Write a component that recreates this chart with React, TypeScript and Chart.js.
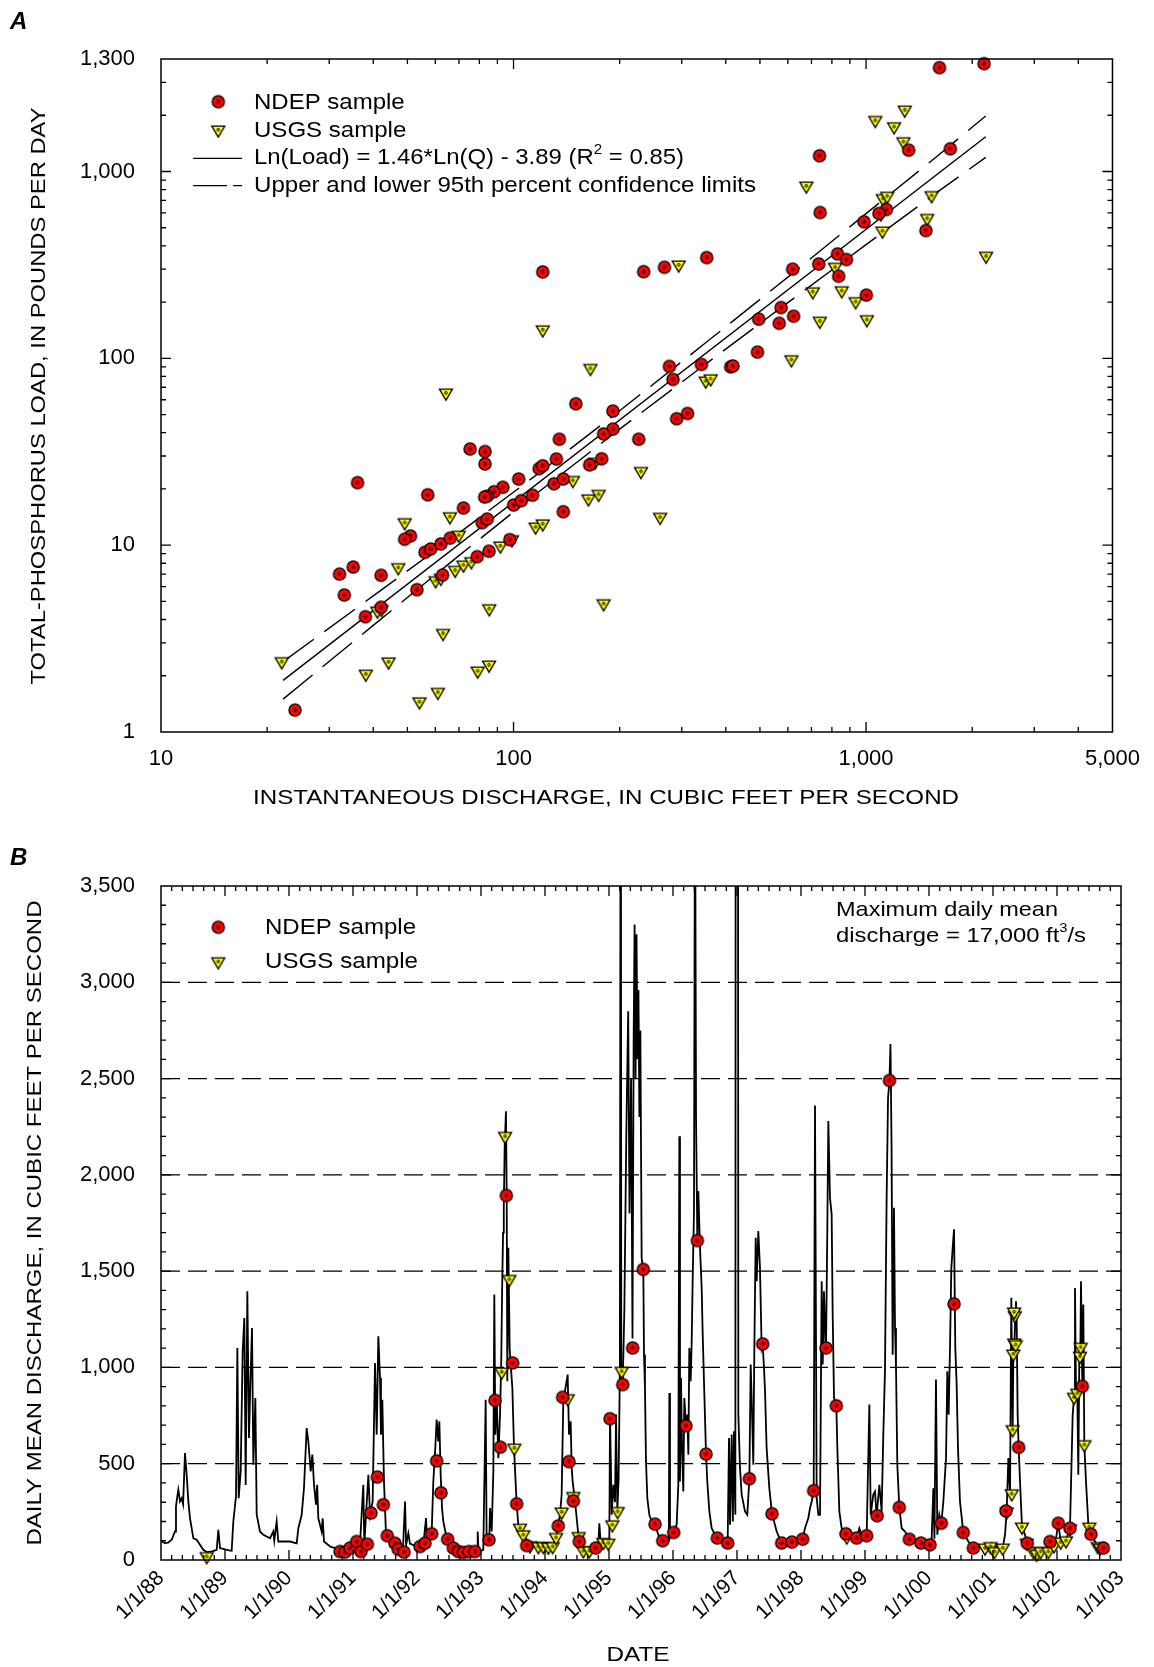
import React, { useEffect, useRef } from "react";
import { Chart, registerables } from "chart.js";

Chart.register(...registerables);

const FONT = '"Liberation Sans", Arial, Helvetica, sans-serif';
Chart.defaults.font.family = FONT;
Chart.defaults.color = "#000";

// ---------- Panel A: load vs. discharge ----------
// NDEP samples: [instantaneous discharge (ft3/s), total-phosphorus load (lb/d)]
const ndepLoadSamples: Array<[number, number]> = [
  [24.0, 1.31], [36.1, 21.6], [57.1, 18.6], [75.3, 32.7], [83.0, 31.7], [83.0, 27.2],
  [32.1, 7.0], [35.1, 7.64], [33.1, 5.41], [42.1, 6.9], [38.0, 4.14], [42.1, 4.65],
  [51.0, 11.2], [49.1, 10.75], [53.2, 5.78], [56.1, 9.16], [58.2, 9.54], [62.2, 10.15],
  [66.1, 10.9], [72.1, 15.8], [62.9, 6.92], [81.5, 13.2], [84.2, 13.8], [93.2, 20.4],
  [88.0, 19.3], [84.2, 18.3], [82.8, 18.1], [78.9, 8.68], [85.2, 9.28], [97.6, 10.7],
  [103.4, 22.6], [100.1, 16.4], [105.2, 17.3], [113.2, 18.5], [118.2, 25.7], [121.0, 26.6],
  [132.3, 28.9], [134.9, 36.9], [130.3, 21.3], [138.4, 22.6], [138.4, 15.1], [150.2, 57.1],
  [191.4, 52.2], [191.4, 41.8], [180.1, 39.4], [177.8, 29.0], [164.4, 26.9], [226.5, 36.9],
  [121.0, 290], [233.9, 291], [268.0, 307], [353.2, 346], [276.8, 90.5], [283.3, 77.1],
  [341.2, 92.8], [290.2, 47.5], [311.6, 50.7], [741, 603], [987, 538], [1142, 626],
  [1088, 596], [1321, 1301], [1734, 1323], [738, 1214], [830, 362], [880, 338],
  [734, 320], [836, 275], [1478, 483], [1002, 218], [619, 300], [623, 168],
  [574, 187], [567, 154], [496, 162], [492, 108], [413, 90], [419, 91],
  [1615, 3594], [2162, 3777],
];

// USGS samples: [instantaneous discharge (ft3/s), total-phosphorus load (lb/d)]
const usgsLoadSamples: Array<[number, number]> = [
  [22.0, 2.38], [38.1, 2.04], [44.2, 2.37], [54.1, 1.45], [61.0, 1.63], [79.1, 2.12],
  [85.2, 2.28], [63.1, 3.37], [85.3, 4.57], [180.1, 4.86], [41.1, 4.44], [42.2, 4.53],
  [47.1, 7.58], [49.1, 13.2], [66.0, 14.2], [69.9, 11.3], [60.1, 6.45], [62.2, 6.65],
  [68.3, 7.34], [72.1, 7.83], [75.9, 8.16], [91.8, 9.9], [99.0, 10.7], [115.5, 12.5],
  [121.0, 13.0], [147.3, 22.2], [163.1, 17.7], [174.3, 18.7], [170.3, 27.8], [229.9, 24.8],
  [64.3, 65.2], [121.0, 142], [165.2, 88.3], [294, 316], [260.5, 14.1], [350.9, 75.6],
  [362.4, 77.7], [677, 836], [1116, 716], [1148, 737], [1102, 594], [1113, 480],
  [1534, 743], [1491, 561], [817, 307], [706, 227], [853, 230], [934, 201],
  [739, 158], [1005, 161], [614, 98.3], [1287, 2131], [1062, 1876], [1201, 1736],
  [1276, 1443], [2190, 352],
];

// Regression Ln(Load) = 1.46*Ln(Q) - 3.89, drawn over the sampled discharge range
const FIT_SLOPE = 1.46;
const FIT_INTERCEPT = -3.89;
const fitRangeQ = [22.2, 2185];

// 95th percent confidence limits on the regression
const confQ = [22.2, 40, 70, 120, 200, 350, 600, 1000, 1600, 2185];
const confUpper = [2.38, 5.35, 11.6, 24.9, 52.4, 120.7, 272, 595, 1218, 1980];
const confLower = [1.5, 3.72, 8.79, 19.8, 41.8, 92.9, 198.7, 406, 780, 1190];

const loadTicks = [1, 10, 100, 1000, 4000];
const loadTickLabels = ["1", "10", "100", "1,000", "1,300"];
const dischargeTicks = [10, 100, 1000, 5000];
const dischargeTickLabels = ["10", "100", "1,000", "5,000"];

// ---------- Panel B: daily mean discharge, 1988-2002 ----------
// [decimal year, daily mean discharge ft3/s]
const dailyFlow: Array<[number, number]> = [
  [1988.01, 96], [1988.06, 88], [1988.11, 90], [1988.167, 105], [1988.219, 148], [1988.234, 278],
  [1988.255, 330], [1988.271, 365], [1988.297, 304], [1988.323, 320], [1988.345, 290], [1988.375, 555],
  [1988.401, 443], [1988.427, 304], [1988.453, 217], [1988.505, 113], [1988.557, 105], [1988.609, 79],
  [1988.661, 53], [1988.714, 41], [1988.8, 45], [1988.87, 53], [1988.896, 157], [1988.922, 62],
  [1989.0, 55], [1989.06, 50], [1989.104, 48], [1989.13, 200], [1989.172, 330], [1989.193, 1101],
  [1989.214, 321], [1989.245, 460], [1989.276, 1083], [1989.302, 1257], [1989.323, 390], [1989.349, 1396],
  [1989.375, 633], [1989.396, 911], [1989.422, 1205], [1989.443, 495], [1989.474, 841], [1989.495, 235],
  [1989.547, 148], [1989.599, 131], [1989.651, 122], [1989.703, 113], [1989.755, 148], [1989.77, 100],
  [1989.807, 200], [1989.833, 96], [1989.911, 96], [1990.016, 96], [1990.12, 87], [1990.146, 165],
  [1990.198, 235], [1990.234, 373], [1990.276, 685], [1990.302, 616], [1990.339, 460], [1990.365, 547],
  [1990.391, 390], [1990.422, 287], [1990.44, 390], [1990.458, 217], [1990.51, 148], [1990.526, 217],
  [1990.547, 96], [1990.641, 70], [1990.719, 62], [1990.745, 53], [1990.85, 55], [1990.953, 62],
  [1991.005, 70], [1991.057, 96], [1991.109, 82], [1991.161, 390], [1991.177, 79], [1991.24, 443],
  [1991.266, 235], [1991.307, 304], [1991.344, 1023], [1991.37, 651], [1991.396, 1162], [1991.422, 945],
  [1991.437, 651], [1991.458, 832], [1991.484, 408], [1991.516, 131], [1991.578, 105], [1991.641, 87],
  [1991.682, 70], [1991.72, 60], [1991.78, 50], [1991.813, 304], [1991.83, 79], [1991.865, 139],
  [1991.89, 85], [1991.995, 70], [1992.099, 79], [1992.141, 218], [1992.16, 80], [1992.229, 139],
  [1992.255, 408], [1992.286, 581], [1992.307, 729], [1992.333, 616], [1992.349, 720], [1992.37, 443],
  [1992.391, 270], [1992.411, 200], [1992.464, 113], [1992.542, 70], [1992.62, 53], [1992.828, 44],
  [1992.94, 44], [1992.948, 148], [1992.962, 44], [1993.036, 53], [1993.073, 832], [1993.088, 96],
  [1993.13, 113], [1993.141, 270], [1993.167, 148], [1993.193, 460], [1993.208, 1379], [1993.224, 651],
  [1993.245, 841], [1993.271, 529], [1993.297, 755], [1993.315, 1000], [1993.33, 1400], [1993.345, 1700],
  [1993.356, 1829], [1993.37, 2150], [1993.39, 2330], [1993.402, 1864], [1993.411, 928], [1993.427, 1621],
  [1993.448, 1101], [1993.464, 1015], [1993.49, 893], [1993.516, 581], [1993.557, 292], [1993.583, 183],
  [1993.661, 131], [1993.766, 79], [1993.87, 70], [1994.026, 67], [1994.13, 79], [1994.182, 131],
  [1994.234, 235], [1994.26, 339], [1994.286, 823], [1994.354, 963], [1994.375, 651], [1994.401, 720],
  [1994.417, 477], [1994.432, 408], [1994.469, 304], [1994.521, 131], [1994.599, 53], [1994.703, 53],
  [1994.833, 79], [1994.849, 191], [1994.87, 85], [1994.938, 96], [1995.005, 96], [1995.016, 755],
  [1995.042, 235], [1995.068, 390], [1995.094, 300], [1995.11, 755], [1995.13, 260], [1995.15, 420],
  [1995.17, 997], [1995.184, 5200], [1995.192, 950], [1995.198, 980], [1995.214, 911], [1995.24, 1300],
  [1995.27, 2200], [1995.3, 2850], [1995.32, 1800], [1995.345, 2500], [1995.367, 1150], [1995.385, 2700],
  [1995.4, 3300], [1995.415, 2500], [1995.43, 3250], [1995.445, 2600], [1995.46, 2960], [1995.475, 2300],
  [1995.49, 2750], [1995.51, 1569], [1995.536, 1509], [1995.547, 1066], [1995.562, 893], [1995.578, 512],
  [1995.599, 321], [1995.63, 235], [1995.667, 200], [1995.719, 183], [1995.771, 131], [1995.839, 105],
  [1995.901, 105], [1995.935, 100], [1995.943, 867], [1995.953, 113], [1995.995, 139], [1996.031, 165],
  [1996.057, 183], [1996.083, 390], [1996.099, 2200], [1996.109, 408], [1996.125, 945], [1996.141, 581],
  [1996.161, 356], [1996.177, 841], [1996.203, 697], [1996.224, 755], [1996.24, 547], [1996.255, 1101],
  [1996.276, 928], [1996.292, 1136], [1996.307, 1448], [1996.328, 1812], [1996.344, 4200], [1996.36, 2300],
  [1996.38, 1659], [1996.396, 1916], [1996.422, 1621], [1996.448, 1413], [1996.463, 1188], [1996.484, 928],
  [1996.516, 550], [1996.536, 408], [1996.568, 252], [1996.604, 165], [1996.656, 131], [1996.708, 110],
  [1996.786, 100], [1996.854, 88], [1996.875, 633], [1996.891, 183], [1996.917, 651], [1996.935, 200],
  [1996.953, 668], [1996.974, 235], [1996.995, 17000], [1997.021, 755], [1997.047, 477], [1997.073, 339],
  [1997.125, 252], [1997.161, 235], [1997.193, 422], [1997.214, 1015], [1997.229, 841], [1997.255, 495],
  [1997.271, 1101], [1997.292, 1673], [1997.307, 1448], [1997.333, 1708], [1997.359, 1517], [1997.385, 1101],
  [1997.401, 1122], [1997.422, 997], [1997.438, 876], [1997.463, 581], [1997.505, 373], [1997.547, 240],
  [1997.62, 148], [1997.698, 88], [1997.776, 82], [1997.859, 93], [1997.932, 96], [1997.984, 131],
  [1998.026, 108], [1998.062, 165], [1998.115, 218], [1998.141, 270], [1998.167, 304], [1998.198, 360],
  [1998.219, 2360], [1998.245, 321], [1998.271, 235], [1998.297, 235], [1998.323, 1448], [1998.339, 1015],
  [1998.359, 1396], [1998.38, 1136], [1998.391, 1101], [1998.411, 1708], [1998.427, 2280], [1998.453, 1881],
  [1998.479, 1795], [1998.495, 1275], [1998.516, 841], [1998.552, 801], [1998.568, 581], [1998.599, 252],
  [1998.635, 165], [1998.688, 148], [1998.714, 131], [1998.766, 148], [1998.818, 131], [1998.87, 113],
  [1998.911, 165], [1998.948, 131], [1999.0, 131], [1999.026, 126], [1999.068, 807], [1999.089, 235],
  [1999.13, 340], [1999.156, 356], [1999.182, 230], [1999.224, 390], [1999.26, 252], [1999.286, 651],
  [1999.312, 980], [1999.338, 1881], [1999.36, 2400], [1999.382, 2490], [1999.398, 2680], [1999.415, 2150],
  [1999.432, 1066], [1999.453, 1829], [1999.469, 1205], [1999.484, 1015], [1999.505, 495], [1999.536, 273],
  [1999.573, 165], [1999.625, 148], [1999.693, 108], [1999.755, 105], [1999.833, 96], [1999.875, 88],
  [1999.938, 96], [2000.016, 79], [2000.042, 113], [2000.068, 373], [2000.085, 110], [2000.109, 937],
  [2000.13, 131], [2000.161, 235], [2000.193, 191], [2000.224, 304], [2000.266, 529], [2000.286, 980],
  [2000.307, 755], [2000.328, 1101], [2000.349, 1517], [2000.37, 1621], [2000.391, 1717], [2000.411, 1101],
  [2000.432, 911], [2000.453, 581], [2000.484, 304], [2000.536, 143], [2000.615, 96], [2000.693, 62],
  [2000.797, 70], [2000.875, 62], [2000.979, 87], [2001.021, 44], [2001.057, 79], [2001.151, 62],
  [2001.188, 131], [2001.214, 261], [2001.24, 529], [2001.266, 339], [2001.286, 1362], [2001.307, 677],
  [2001.318, 1066], [2001.333, 1101], [2001.349, 1275], [2001.359, 1344], [2001.37, 1240], [2001.385, 755],
  [2001.401, 585], [2001.422, 408], [2001.453, 174], [2001.5, 131], [2001.536, 87], [2001.63, 44],
  [2001.682, 36], [2001.76, 44], [2001.865, 44], [2001.891, 96], [2001.969, 79], [2002.021, 191],
  [2002.057, 96], [2002.141, 105], [2002.203, 165], [2002.245, 755], [2002.266, 841], [2002.281, 1413],
  [2002.297, 893], [2002.318, 858], [2002.333, 443], [2002.349, 1066], [2002.365, 1101], [2002.375, 1448],
  [2002.396, 902], [2002.411, 1327], [2002.427, 599], [2002.453, 408], [2002.49, 183], [2002.531, 134],
  [2002.594, 96], [2002.646, 70], [2002.724, 62], [2002.75, 58],
];

// NDEP sample dates and discharges: [decimal year, ft3/s]
const ndepFlowSamples: Array<[number, number]> = [
  [1990.797, 44], [1990.875, 41], [1990.953, 62], [1991.057, 96], [1991.125, 44], [1991.224, 82],
  [1991.281, 244], [1991.38, 431], [1991.474, 287], [1991.536, 126], [1991.656, 87], [1991.708, 56],
  [1991.797, 41], [1992.047, 70], [1992.125, 87], [1992.229, 136], [1992.307, 515], [1992.375, 349],
  [1992.479, 108], [1992.568, 62], [1992.646, 44], [1992.724, 39], [1992.812, 44], [1992.906, 44],
  [1993.125, 105], [1993.219, 829], [1993.302, 586], [1993.396, 1893], [1993.495, 1023], [1993.557, 292],
  [1993.713, 75], [1994.208, 177], [1994.276, 845], [1994.375, 511], [1994.443, 307], [1994.536, 96],
  [1994.792, 62], [1995.016, 734], [1995.214, 911], [1995.37, 1101], [1995.536, 1509], [1995.719, 186],
  [1995.839, 100], [1996.01, 143], [1996.203, 697], [1996.38, 1659], [1996.516, 550], [1996.693, 114],
  [1996.854, 88], [1997.193, 422], [1997.401, 1122], [1997.547, 240], [1997.698, 88], [1997.859, 93],
  [1998.026, 108], [1998.198, 360], [1998.391, 1101], [1998.552, 801], [1998.703, 136], [1998.87, 114],
  [1999.026, 126], [1999.19, 230], [1999.382, 2490], [1999.536, 273], [1999.693, 108], [1999.875, 88],
  [2000.016, 79], [2000.193, 191], [2000.391, 1330], [2000.536, 143], [2000.693, 62], [2001.203, 255],
  [2001.401, 585], [2001.536, 87], [2001.891, 96], [2002.021, 191], [2002.203, 165], [2002.396, 902],
  [2002.531, 134], [2002.724, 62],
];

// USGS sample dates and discharges: [decimal year, ft3/s]
const usgsFlowSamples: Array<[number, number]> = [
  [1988.714, 18], [1993.323, 976], [1993.376, 2200], [1993.443, 1457], [1993.521, 581], [1993.609, 165],
  [1993.661, 131], [1993.766, 74], [1993.896, 70], [1993.974, 70], [1994.052, 67], [1994.12, 70],
  [1994.172, 117], [1994.26, 249], [1994.354, 838], [1994.443, 330], [1994.526, 122], [1994.599, 48],
  [1994.693, 48], [1994.911, 91], [1994.99, 87], [1995.052, 183], [1995.135, 252], [1995.198, 980],
  [1998.714, 120], [2000.875, 62], [2000.96, 70], [2001.021, 44], [2001.151, 62], [2001.214, 250],
  [2001.292, 344], [2001.307, 677], [2001.318, 1070], [2001.333, 1127], [2001.354, 1118], [2001.34, 1269],
  [2001.33, 1288], [2001.453, 171], [2001.526, 87], [2001.63, 44], [2001.682, 30], [2001.745, 44],
  [2001.865, 44], [2001.953, 74], [2002.057, 93], [2002.141, 100], [2002.203, 162], [2002.266, 845],
  [2002.318, 866], [2002.359, 1058], [2002.37, 1105], [2002.427, 599], [2002.505, 171], [2002.635, 70],
  [2002.672, 62],
];

const yearTicks = [1988, 1989, 1990, 1991, 1992, 1993, 1994, 1995, 1996, 1997, 1998, 1999, 2000, 2001, 2002, 2003];
const yearTickLabels = ["1/1/88", "1/1/89", "1/1/90", "1/1/91", "1/1/92", "1/1/93", "1/1/94", "1/1/95",
  "1/1/96", "1/1/97", "1/1/98", "1/1/99", "1/1/00", "1/1/01", "1/1/02", "1/1/03"];
const cfsTicks = [0, 500, 1000, 1500, 2000, 2500, 3000, 3500];
const cfsTickLabels = ["0", "500", "1,000", "1,500", "2,000", "2,500", "3,000", "3,500"];
const dashedLevels = [500, 1000, 1500, 2000, 2500, 3000];

// ---------- marker images ----------
function makeCircleMarker(): HTMLCanvasElement {
  const c = document.createElement("canvas");
  c.width = 16; c.height = 16;
  const g = c.getContext("2d")!;
  g.beginPath(); g.arc(8, 8, 6.1, 0, Math.PI * 2);
  g.fillStyle = "#ff0000"; g.fill();
  g.lineWidth = 1.3; g.strokeStyle = "#000"; g.stroke();
  g.beginPath(); g.arc(8, 8, 1.4, 0, Math.PI * 2);
  g.lineWidth = 1; g.stroke();
  return c;
}

function makeTriangleMarker(): HTMLCanvasElement {
  const c = document.createElement("canvas");
  c.width = 18; c.height = 18;
  const g = c.getContext("2d")!;
  g.beginPath();
  g.moveTo(2.5, 5.2); g.lineTo(15.5, 5.2); g.lineTo(9, 16.2); g.closePath();
  g.fillStyle = "#ffff00"; g.fill();
  g.lineWidth = 1.3; g.strokeStyle = "#000"; g.lineJoin = "miter"; g.stroke();
  g.beginPath(); g.arc(9, 8.8, 1.3, 0, Math.PI * 2);
  g.lineWidth = 1; g.stroke();
  return c;
}

// ---------- text helpers ----------
type Seg = { text: string; sup?: boolean };

function drawFitted(
  ctx: CanvasRenderingContext2D,
  content: string | Seg[],
  x: number,
  y: number,
  width: number | null,
  size: number,
  opts: { rotate?: number; align?: "left" | "center"; style?: string } = {}
) {
  const segs: Seg[] = typeof content === "string" ? [{ text: content }] : content;
  const style = opts.style ?? "";
  const fontOf = (s: Seg) => `${style} ${s.sup ? Math.round(size * 0.62) : size}px ${FONT}`;
  const widths = segs.map((s) => { ctx.font = fontOf(s); return ctx.measureText(s.text).width; });
  const natural = widths.reduce((a, b) => a + b, 0);
  const sx = width ? width / natural : 1;
  ctx.save();
  ctx.translate(x, y);
  if (opts.rotate) ctx.rotate(opts.rotate);
  ctx.scale(sx, 1);
  ctx.fillStyle = "#000";
  ctx.textAlign = "left";
  ctx.textBaseline = "middle";
  let cx = opts.align === "center" ? -natural / 2 : 0;
  segs.forEach((s, i) => {
    ctx.font = fontOf(s);
    ctx.fillText(s.text, cx, s.sup ? -size * 0.36 : 0);
    cx += widths[i];
  });
  ctx.restore();
}

function logTickList(min: number, max: number): Array<[number, boolean]> {
  const out: Array<[number, boolean]> = [];
  for (let d = Math.pow(10, Math.floor(Math.log10(min))); d <= max; d *= 10) {
    for (let m = 1; m <= 9; m++) {
      const v = m * d;
      if (v > min * 1.0001 && v < max * 0.9999) out.push([v, m === 1]);
    }
  }
  return out;
}

function fitLoad(q: number) {
  return Math.exp(FIT_INTERCEPT + FIT_SLOPE * Math.log(q));
}

// ---------- chart configs ----------
function configA(circle: HTMLCanvasElement, tri: HTMLCanvasElement): any {
  const panelA = {
    id: "panelA",
    afterDatasetsDraw(chart: any) {
      const { ctx, chartArea: ca, scales } = chart;
      const xs = scales.x, ys = scales.y;
      ctx.save();
      ctx.strokeStyle = "#000";
      ctx.lineWidth = 1.5;
      ctx.setLineDash([]);
      ctx.strokeRect(ca.left, ca.top, ca.right - ca.left, ca.bottom - ca.top);
      ctx.lineWidth = 1.3;
      ctx.beginPath();
      for (const [v, major] of logTickList(10, 5000)) {
        const p = xs.getPixelForValue(v);
        const len = major ? 10 : 5;
        ctx.moveTo(p, ca.bottom); ctx.lineTo(p, ca.bottom - len);
        ctx.moveTo(p, ca.top); ctx.lineTo(p, ca.top + len);
      }
      for (const [v, major] of logTickList(1, 4000)) {
        const p = ys.getPixelForValue(v);
        const len = major ? 10 : 5;
        ctx.moveTo(ca.left, p); ctx.lineTo(ca.left + len, p);
        ctx.moveTo(ca.right, p); ctx.lineTo(ca.right - len, p);
      }
      ctx.stroke();

      // panel letter and axis titles
      drawFitted(ctx, "A", 10, 22, null, 24, { style: "italic bold" });
      drawFitted(ctx, "TOTAL-PHOSPHORUS LOAD, IN POUNDS PER DAY", 39, 396, 577, 21,
        { rotate: -Math.PI / 2, align: "center" });
      drawFitted(ctx, "INSTANTANEOUS DISCHARGE, IN CUBIC FEET PER SECOND", 606, 798, 706, 21,
        { align: "center" });

      // legend
      ctx.drawImage(circle, 218.3 - circle.width / 2, 101.7 - circle.height / 2);
      ctx.drawImage(tri, 218.3 - tri.width / 2, 130 - tri.height / 2);
      ctx.lineWidth = 1.3;
      ctx.beginPath();
      ctx.moveTo(193, 158.3); ctx.lineTo(242, 158.3);
      ctx.moveTo(193, 185.7); ctx.lineTo(227, 185.7);
      ctx.moveTo(233, 185.7); ctx.lineTo(242, 185.7);
      ctx.stroke();
      drawFitted(ctx, "NDEP sample", 254, 103.3, 150.7, 22);
      drawFitted(ctx, "USGS sample", 254, 130.7, 152.3, 22);
      drawFitted(ctx, [
        { text: "Ln(Load) = 1.46*Ln(Q) - 3.89 (R" }, { text: "2", sup: true }, { text: " = 0.85)" },
      ], 254, 158.3, 430, 22);
      drawFitted(ctx, "Upper and lower 95th percent confidence limits", 254, 185.7, 502, 22);
      ctx.restore();
    },
  };

  return {
    type: "scatter",
    data: {
      datasets: [
        {
          label: "NDEP sample",
          data: ndepLoadSamples.map(([q, l]) => ({ x: q, y: l })),
          pointStyle: circle, pointRadius: 7, clip: false,
        },
        {
          label: "USGS sample",
          data: usgsLoadSamples.map(([q, l]) => ({ x: q, y: l })),
          pointStyle: tri, pointRadius: 7, clip: false,
        },
        {
          label: "Regression",
          data: fitRangeQ.map((q) => ({ x: q, y: fitLoad(q) })),
          showLine: true, borderColor: "#000", borderWidth: 1.4, pointRadius: 0,
        },
        {
          label: "Upper 95th percent confidence limit",
          data: confQ.map((q, i) => ({ x: q, y: confUpper[i] })),
          showLine: true, borderColor: "#000", borderWidth: 1.4, borderDash: [38, 13], pointRadius: 0,
        },
        {
          label: "Lower 95th percent confidence limit",
          data: confQ.map((q, i) => ({ x: q, y: confLower[i] })),
          showLine: true, borderColor: "#000", borderWidth: 1.4, borderDash: [38, 13], pointRadius: 0,
        },
      ],
    },
    options: {
      animation: false,
      responsive: true,
      maintainAspectRatio: false,
      events: [],
      layout: { padding: { left: 0, right: 33, top: 59, bottom: 48 } },
      plugins: { legend: { display: false }, tooltip: { enabled: false } },
      scales: {
        x: {
          type: "logarithmic", min: 10, max: 5000,
          grid: { display: false, drawTicks: false }, border: { display: false },
          afterBuildTicks: (s: any) => { s.ticks = dischargeTicks.map((v) => ({ value: v })); },
          afterFit: (s: any) => { s.height = 50; },
          ticks: {
            padding: 14, color: "#000", font: { size: 22, family: FONT },
            maxRotation: 0, autoSkip: false,
            callback: (v: any) => dischargeTickLabels[dischargeTicks.indexOf(Number(v))] ?? "",
          },
        },
        y: {
          type: "logarithmic", min: 1, max: 4000,
          grid: { display: false, drawTicks: false }, border: { display: false },
          afterBuildTicks: (s: any) => { s.ticks = loadTicks.map((v) => ({ value: v })); },
          afterFit: (s: any) => { s.width = 161; },
          ticks: {
            padding: 26, color: "#000", font: { size: 22, family: FONT }, autoSkip: false,
            callback: (v: any) => loadTickLabels[loadTicks.indexOf(Number(v))] ?? "",
          },
        },
      },
    },
    plugins: [panelA],
  };
}

function configB(circle: HTMLCanvasElement, tri: HTMLCanvasElement): any {
  const OFF = 830; // canvas top on the page
  const panelB = {
    id: "panelB",
    beforeDatasetsDraw(chart: any) {
      const { ctx, chartArea: ca, scales } = chart;
      ctx.save();
      ctx.strokeStyle = "#000";
      ctx.lineWidth = 1.3;
      ctx.setLineDash([19, 8]);
      ctx.beginPath();
      for (const lv of dashedLevels) {
        const p = scales.y.getPixelForValue(lv);
        ctx.moveTo(ca.left, p); ctx.lineTo(ca.right, p);
      }
      ctx.stroke();
      ctx.restore();
    },
    afterDatasetsDraw(chart: any) {
      const { ctx, chartArea: ca, scales } = chart;
      const xs = scales.x, ys = scales.y;
      ctx.save();
      ctx.strokeStyle = "#000";
      ctx.lineWidth = 1.5;
      ctx.setLineDash([]);
      ctx.strokeRect(ca.left, ca.top, ca.right - ca.left, ca.bottom - ca.top);
      ctx.lineWidth = 1.3;
      ctx.beginPath();
      for (let k = 1; k < 15 * 6; k++) {
        const p = xs.getPixelForValue(1988 + k / 6);
        const len = k % 6 === 0 ? 10 : 5;
        ctx.moveTo(p, ca.bottom); ctx.lineTo(p, ca.bottom - len);
        ctx.moveTo(p, ca.top); ctx.lineTo(p, ca.top + len);
      }
      for (let v = 100; v < 3500; v += 100) {
        const p = ys.getPixelForValue(v);
        const len = v % 500 === 0 ? 10 : 5;
        ctx.moveTo(ca.left, p); ctx.lineTo(ca.left + len, p);
        ctx.moveTo(ca.right, p); ctx.lineTo(ca.right - len, p);
      }
      ctx.stroke();

      drawFitted(ctx, "B", 10, 858 - OFF, null, 24, { style: "italic bold" });
      drawFitted(ctx, "DAILY MEAN DISCHARGE, IN CUBIC FEET PER SECOND", 35.5, 1223 - OFF, 645, 21,
        { rotate: -Math.PI / 2, align: "center" });
      drawFitted(ctx, "DATE", 638, 1655 - OFF, 63, 21, { align: "center" });

      ctx.drawImage(circle, 218.3 - circle.width / 2, 927.3 - OFF - circle.height / 2);
      ctx.drawImage(tri, 218.3 - tri.width / 2, 961.7 - OFF - tri.height / 2);
      drawFitted(ctx, "NDEP sample", 265, 928 - OFF, 151, 22);
      drawFitted(ctx, "USGS sample", 265, 962 - OFF, 153, 22);

      drawFitted(ctx, "Maximum daily mean", 836, 910.5 - OFF, 222, 21);
      drawFitted(ctx, [
        { text: "discharge = 17,000 ft" }, { text: "3", sup: true }, { text: "/s" },
      ], 836, 936 - OFF, 250, 21);
      ctx.restore();
    },
  };

  return {
    type: "scatter",
    data: {
      datasets: [
        {
          label: "NDEP sample",
          data: ndepFlowSamples.map(([t, q]) => ({ x: t, y: q })),
          pointStyle: circle, pointRadius: 7, clip: false,
        },
        {
          label: "USGS sample",
          data: usgsFlowSamples.map(([t, q]) => ({ x: t, y: q })),
          pointStyle: tri, pointRadius: 7, clip: false,
        },
        {
          label: "Daily mean discharge",
          data: dailyFlow.map(([t, q]) => ({ x: t, y: q })),
          showLine: true, borderColor: "#000", borderWidth: 1.8, pointRadius: 0,
        },
      ],
    },
    options: {
      animation: false,
      responsive: true,
      maintainAspectRatio: false,
      events: [],
      layout: { padding: { left: 0, right: 33, top: 56, bottom: 27 } },
      plugins: { legend: { display: false }, tooltip: { enabled: false } },
      scales: {
        x: {
          type: "linear", min: 1988, max: 2003,
          grid: { display: false, drawTicks: false }, border: { display: false },
          afterBuildTicks: (s: any) => { s.ticks = yearTicks.map((v) => ({ value: v })); },
          afterFit: (s: any) => { s.height = 80; },
          ticks: {
            padding: 6, color: "#000", font: { size: 21, family: FONT },
            autoSkip: false, maxRotation: 45, minRotation: 45,
            callback: (v: any) => yearTickLabels[yearTicks.indexOf(Number(v))] ?? "",
          },
        },
        y: {
          type: "linear", min: 0, max: 3500,
          grid: { display: false, drawTicks: false }, border: { display: false },
          afterBuildTicks: (s: any) => { s.ticks = cfsTicks.map((v) => ({ value: v })); },
          afterFit: (s: any) => { s.width = 161; },
          ticks: {
            padding: 26, color: "#000", font: { size: 22, family: FONT }, autoSkip: false,
            callback: (v: any) => cfsTickLabels[cfsTicks.indexOf(Number(v))] ?? "",
          },
        },
      },
    },
    plugins: [panelB],
  };
}

export default function App() {
  const refA = useRef<HTMLCanvasElement>(null);
  const refB = useRef<HTMLCanvasElement>(null);

  useEffect(() => {
    const circle = makeCircleMarker();
    const tri = makeTriangleMarker();
    const a = new Chart(refA.current!, configA(circle, tri));
    const b = new Chart(refB.current!, configB(circle, tri));
    return () => {
      a.destroy();
      b.destroy();
    };
  }, []);

  return (
    <div style={{ position: "absolute", left: 0, top: 0, width: 1154, height: 1667, background: "#fff" }}>
      <div style={{ position: "absolute", left: 0, top: 0, width: 1154, height: 830 }}>
        <canvas ref={refA} />
      </div>
      <div style={{ position: "absolute", left: 0, top: 830, width: 1154, height: 837 }}>
        <canvas ref={refB} />
      </div>
    </div>
  );
}
